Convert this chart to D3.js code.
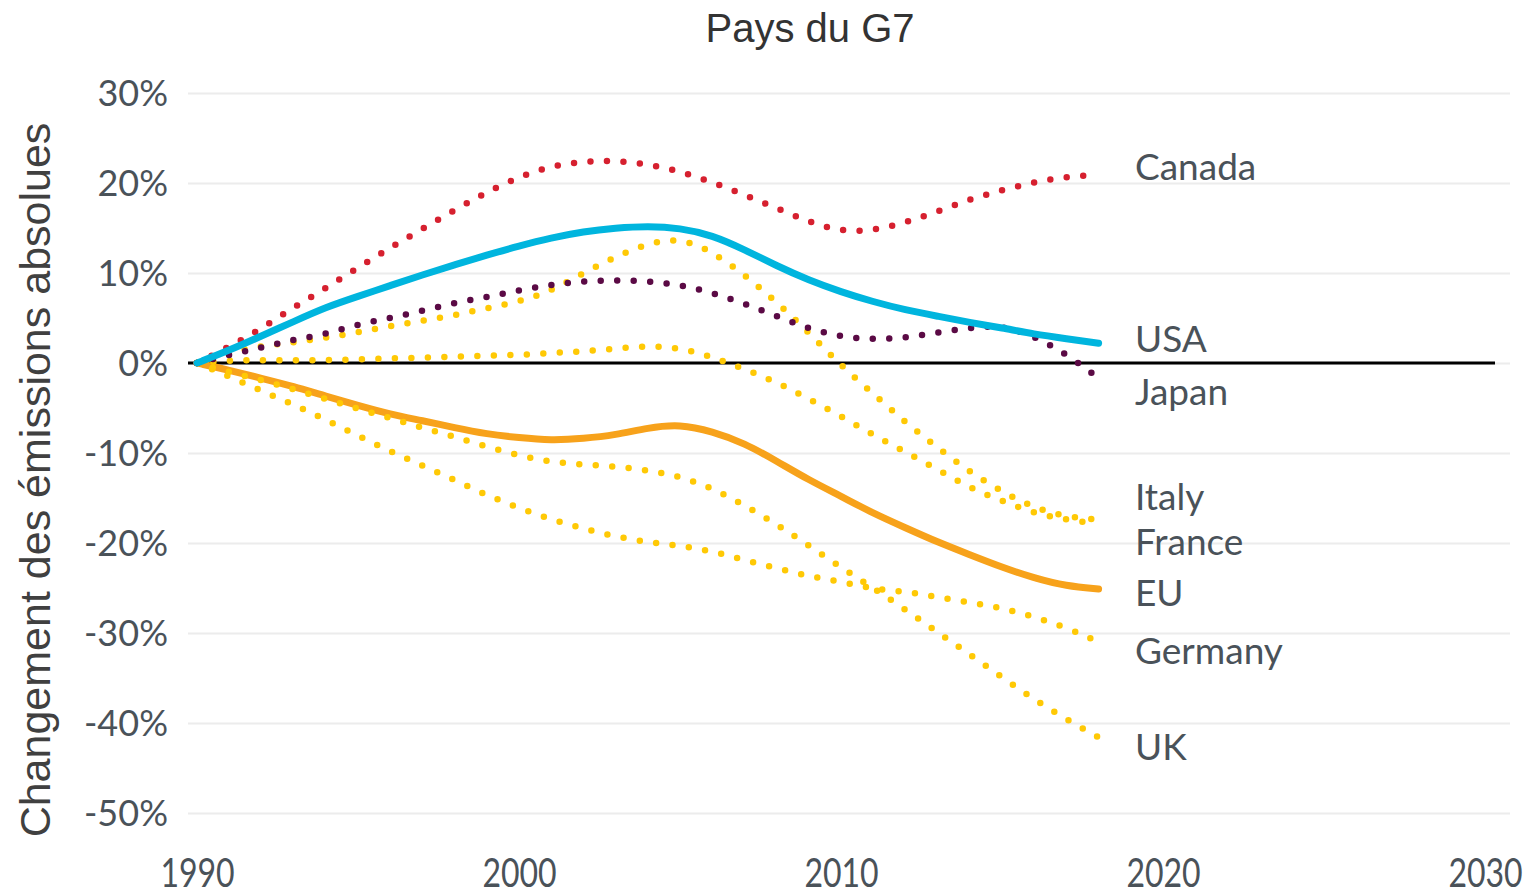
<!DOCTYPE html>
<html>
<head>
<meta charset="utf-8">
<script src="https://cdn.jsdelivr.net/npm/d3@7"></script>
<style>
  html, body { margin: 0; padding: 0; background: #ffffff; }
  svg { display: block; }
</style>
</head>
<body>
<svg id="chart" width="1526" height="892"></svg>
<script>
const years = d3.range(1990, 2019);
const yTicks = [30, 20, 10, 0, -10, -20, -30, -40, -50];
const xTicks = [1990, 2000, 2010, 2020, 2030];
const title = "Pays du G7";
const yTitle = "Changement des émissions absolues";

const canada  = [0, 1.8, 3.8, 6.2, 8.3, 10.6, 12.8, 14.9, 17.0, 19.0, 20.7, 21.9, 22.4, 22.5, 22.1, 21.3, 20.1, 18.7, 17.2, 15.7, 14.6, 14.7, 15.6, 16.8, 18.2, 19.2, 20.1, 20.7, 20.9];
const usa     = [0, 1.4, 3.0, 4.6, 6.2, 7.4, 8.6, 9.8, 10.9, 12.0, 13.0, 13.9, 14.6, 15.0, 15.2, 15.0, 14.2, 12.6, 10.8, 9.2, 7.9, 6.8, 5.9, 5.2, 4.5, 3.9, 3.2, 2.7, 2.2];
const japan   = [0, 0.9, 1.7, 2.6, 3.2, 4.3, 5.0, 5.8, 6.7, 7.3, 8.1, 8.7, 9.1, 9.2, 9.1, 8.7, 7.8, 6.6, 5.2, 3.8, 2.9, 2.6, 2.8, 3.4, 3.9, 4.2, 3.0, 1.0, -1.7];
const italy   = [0, 1.2, 1.9, 2.3, 2.8, 3.4, 4.1, 4.7, 5.3, 6.1, 6.8, 8.0, 10.0, 11.8, 13.3, 13.9, 12.4, 9.8, 6.8, 3.4, -0.3, -3.4, -6.6, -9.4, -12.1, -14.3, -16.1, -17.1, -17.4];
const france  = [0, 0.3, 0.3, 0.3, 0.3, 0.4, 0.5, 0.6, 0.7, 0.8, 0.9, 1.1, 1.3, 1.6, 1.9, 1.7, 0.7, -0.7, -2.1, -4.0, -5.9, -8.0, -9.9, -11.8, -13.9, -15.3, -16.7, -17.4, -17.9];
const eu      = [0, -0.8, -1.7, -2.6, -3.7, -4.7, -5.7, -6.4, -7.2, -7.9, -8.3, -8.6, -8.4, -8.0, -7.2, -6.8, -7.6, -8.9, -10.9, -13.0, -14.8, -16.7, -18.3, -19.9, -21.3, -22.7, -23.9, -24.8, -25.1];
const germany = [0, -1.5, -3.1, -4.6, -6.3, -8.1, -9.8, -11.4, -13.0, -14.7, -16.1, -17.4, -18.4, -19.3, -19.9, -20.3, -20.9, -21.9, -22.8, -23.7, -24.3, -25.1, -25.4, -26.0, -26.6, -27.2, -28.2, -29.4, -31.0];
const uk      = [0, -1.0, -1.9, -2.9, -4.0, -5.1, -6.1, -7.2, -8.2, -9.3, -10.3, -11.0, -11.3, -11.5, -11.9, -12.6, -13.9, -15.8, -17.9, -20.3, -22.7, -25.0, -27.4, -29.9, -32.4, -34.9, -37.4, -39.6, -41.6];

// drawing order and styles (not data)
const seriesList = [
  { name: "EU",      values: eu,      color: "#f7a21b", dotted: false },
  { name: "Germany", values: germany, color: "#ffc905", dotted: true },
  { name: "UK",      values: uk,      color: "#ffc905", dotted: true },
  { name: "France",  values: france,  color: "#ffc905", dotted: true },
  { name: "Italy",   values: italy,   color: "#ffc905", dotted: true },
  { name: "Japan",   values: japan,   color: "#5b0a45", dotted: true },
  { name: "Canada",  values: canada,  color: "#d6202f", dotted: true },
  { name: "USA",     values: usa,     color: "#00b5de", dotted: false }
];
const labelPos = { Canada: 180, USA: 352, Japan: 405, Italy: 510, France: 555, EU: 606, Germany: 664, UK: 760 };

const svg = d3.select("#chart");
const x = d3.scaleLinear().domain([1990, 2030]).range([197, 1485]);
const y = d3.scaleLinear().domain([-50, 30]).range([813, 93]);

// gridlines
const grid = svg.append("g")
  .attr("transform", "translate(188,0)")
  .call(d3.axisLeft(y).tickValues(yTicks).tickSize(-(1510 - 188)).tickFormat(""));
grid.select(".domain").remove();
grid.selectAll(".tick line").attr("stroke", "#ececec").attr("stroke-width", 2);

// y tick labels
const yAxis = svg.append("g").attr("transform", "translate(168,0)")
  .call(d3.axisLeft(y).tickValues(yTicks).tickSize(0).tickPadding(0).tickFormat(d => d + "%"));
yAxis.select(".domain").remove();
yAxis.selectAll("text")
  .attr("font-family", "Lato, 'Open Sans', sans-serif")
  .attr("font-size", 36)
  .attr("fill", "#4a5259")
  .attr("dy", "0.36em");

// x tick labels
const xAxis = svg.append("g").attr("transform", "translate(0,887)")
  .call(d3.axisBottom(x).tickValues(xTicks).tickSize(0).tickPadding(0).tickFormat(d3.format("d")));
xAxis.select(".domain").remove();
xAxis.selectAll("text")
  .attr("font-family", "Lato, 'Open Sans', sans-serif")
  .attr("font-size", 40)
  .attr("fill", "#4a5259")
  .attr("dy", 0)
  .attr("transform", "scale(0.8,1)");

// zero line
svg.append("line")
  .attr("x1", 188).attr("x2", 1495)
  .attr("y1", y(0)).attr("y2", y(0))
  .attr("stroke", "#000").attr("stroke-width", 3);

// lines
const line = d3.line()
  .x((d, i) => x(years[i]))
  .y(d => y(d))
  .curve(d3.curveBasis);

svg.append("g").selectAll("path")
  .data(seriesList)
  .join("path")
  .attr("d", s => line(s.values))
  .attr("fill", "none")
  .attr("stroke", s => s.color)
  .attr("stroke-width", s => s.dotted ? 6.5 : 7)
  .attr("stroke-linecap", "round")
  .attr("stroke-dasharray", s => s.dotted ? "0 16.5" : null);

// series labels
svg.append("g").selectAll("text")
  .data(seriesList)
  .join("text")
  .attr("x", 1135)
  .attr("y", s => labelPos[s.name])
  .attr("font-family", "Lato, 'Open Sans', sans-serif")
  .attr("font-size", 37)
  .attr("fill", "#4a5259")
  .text(s => s.name);

// title
svg.append("text")
  .attr("x", 810).attr("y", 42)
  .attr("text-anchor", "middle")
  .attr("font-family", "'Liberation Sans', Arial, sans-serif")
  .attr("font-size", 40)
  .attr("fill", "#333")
  .text(title);

// y axis title
svg.append("text")
  .attr("transform", "translate(50,480) rotate(-90)")
  .attr("text-anchor", "middle")
  .attr("font-family", "'Liberation Sans', Arial, sans-serif")
  .attr("font-size", 43)
  .attr("fill", "#404040")
  .text(yTitle);
</script>
</body>
</html>
